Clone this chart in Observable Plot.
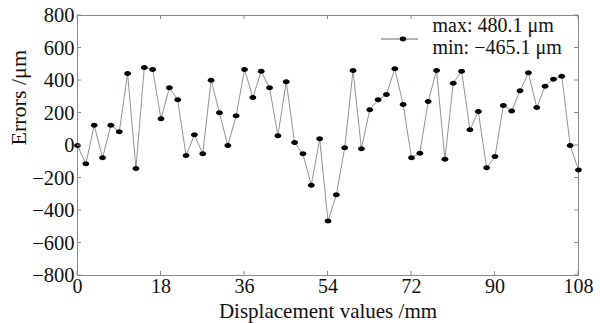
<!DOCTYPE html>
<html>
<head>
<meta charset="utf-8">
<script src="https://cdn.jsdelivr.net/npm/d3@7"></script>
<script src="https://cdn.jsdelivr.net/npm/@observablehq/plot@0.6"></script>
<style>
  html, body { margin: 0; padding: 0; background: #fff; }
  svg { display: block; }
</style>
</head>
<body>
<div id="chart"></div>
<script>
const step = 1.8;
const errors = [0, -113, 125, -76, 125, 84, 443, -141, 480.1, 468, 164, 355, 281, -62, 66, -51, 402, 201, 0, 183, 468, 295, 457, 355, 60, 392, 18, -51, -244, 41, -465.1, -303, -14, 462, -20, 220, 281, 314, 472, 252, -76, -47, 271, 462, -84, 383, 457, 97, 209, -137, -68, 246, 213, 337, 447, 234, 365, 408, 426, 0, -150];
const xTicks = [0, 18, 36, 54, 72, 90, 108];
const yTicks = [-800, -600, -400, -200, 0, 200, 400, 600, 800];
const legendLines = ["max: 480.1 μm", "min: −465.1 μm"];

const data = errors.map((e, i) => ({x: +(i * step).toFixed(1), y: e}));
const font = "'Liberation Serif', 'DejaVu Serif', serif";
const axisColor = "#8a8a8a";

// elliptical marker symbol (wider than tall)
const ellipse = {
  draw(ctx, size) {
    const rx = 3.4, ry = 2.5, k = 0.5523;
    ctx.moveTo(rx, 0);
    ctx.bezierCurveTo(rx, ry * k, rx * k, ry, 0, ry);
    ctx.bezierCurveTo(-rx * k, ry, -rx, ry * k, -rx, 0);
    ctx.bezierCurveTo(-rx, -ry * k, -rx * k, -ry, 0, -ry);
    ctx.bezierCurveTo(rx * k, -ry, rx, -ry * k, rx, 0);
    ctx.closePath();
  }
};

const plot = Plot.plot({
  width: 600,
  height: 323,
  marginLeft: 77,
  marginRight: 22,
  marginTop: 15,
  marginBottom: 48,
  style: {fontFamily: font, fontSize: "21px", color: "#111", background: "#fff"},
  x: {domain: [0, 108], ticks: xTicks},
  y: {domain: [-800, 800], ticks: yTicks},
  marks: [
    Plot.frame({stroke: axisColor}),
    Plot.axisX({ticks: xTicks, tickSize: 0, tickPadding: 3, label: null, fontSize: 20}),
    Plot.axisY({ticks: yTicks, tickSize: 0, tickPadding: 3, label: null, fontSize: 20.5}),
    Plot.line(data, {x: "x", y: "y", stroke: "#8c8480", strokeWidth: 0.9}),
    Plot.dot(data, {x: "x", y: "y", symbol: ellipse, fill: "#000", stroke: "none"}),
    Plot.text(["Displacement values /mm"], {frameAnchor: "bottom", dy: 42, fontSize: 21, fill: "#111"}),
    Plot.text(["Errors /μm"], {frameAnchor: "left", dx: -59, rotate: -90, fontSize: 22, fill: "#111"}),
    Plot.text([legendLines.join("\n")], {frameAnchor: "top-left", dx: 355, dy: 1, textAnchor: "start", lineAnchor: "top", fontSize: 20, lineHeight: 1.1, fill: "#111"})
  ]
});

// inward ticks on all sides
const svg = d3.select(plot);
const xs = plot.scale("x"), ys = plot.scale("y");
const L = 77, R = 578, T = 15, B = 275;
const g = svg.append("g").attr("stroke", axisColor).attr("stroke-width", 1);
xTicks.forEach(t => {
  const px = xs.apply(t);
  g.append("line").attr("x1", px).attr("x2", px).attr("y1", B).attr("y2", B - 4);
  g.append("line").attr("x1", px).attr("x2", px).attr("y1", T).attr("y2", T + 4);
});
yTicks.forEach(t => {
  const py = ys.apply(t);
  g.append("line").attr("x1", L).attr("x2", L + 4).attr("y1", py).attr("y2", py);
  g.append("line").attr("x1", R).attr("x2", R - 4).attr("y1", py).attr("y2", py);
});
// legend sample: line with dot
const lg = svg.append("g");
lg.append("line").attr("x1", 381).attr("x2", 418).attr("y1", 39).attr("y2", 39).attr("stroke", "#555").attr("stroke-width", 0.9);
lg.append("ellipse").attr("cx", 403).attr("cy", 39).attr("rx", 3.2).attr("ry", 2.4).attr("fill", "#000");

document.getElementById("chart").append(plot);
</script>
</body>
</html>
